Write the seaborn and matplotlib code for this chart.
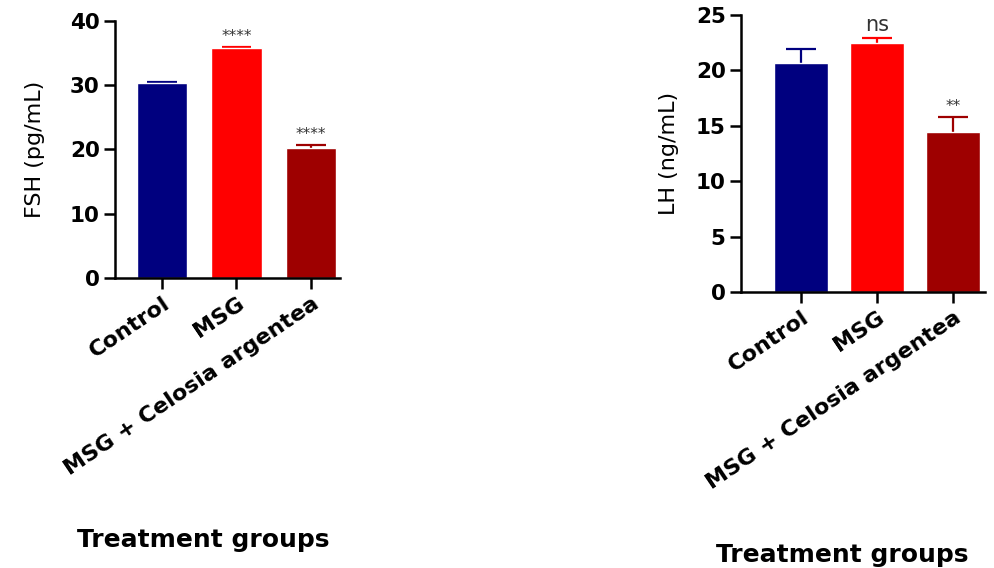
import matplotlib
matplotlib.use("Agg")
import matplotlib.pyplot as plt
import seaborn as sns
import pandas as pd

# Treatment groups and hormone measurements (mean, upper SEM)
groups = ["Control", "MSG", "MSG + Celosia argentea"]
fsh_mean = [30.4, 35.8, 20.2]
fsh_err = [0.15, 0.15, 0.45]
fsh_marks = ["", "****", "****"]
lh_mean = [20.7, 22.5, 14.4]
lh_err = [1.2, 0.4, 1.4]
lh_marks = ["", "ns", "**"]
bar_colors = ["#00007F", "#FF0000", "#9E0000"]

sns.set_style("white")
plt.rcParams["font.family"] = ["DejaVu Sans"]
for key in ("text.color", "axes.labelcolor", "xtick.color", "ytick.color"):
    plt.rcParams[key] = "black"

fig = plt.figure(figsize=(9.95, 5.68), dpi=100)
ax1 = fig.add_axes([0.1156, 0.5106, 0.2261, 0.4524])
ax2 = fig.add_axes([0.7447, 0.4859, 0.2452, 0.4877])


def draw_panel(ax, means, errs, marks, ylabel, ymax, ystep, xlim, width,
               mark_sizes, labelpad):
    df = pd.DataFrame({"group": groups, "value": means})
    sns.barplot(data=df, x="group", y="value", hue="group", palette=bar_colors,
                order=groups, hue_order=groups, legend=False, width=width,
                saturation=1, errorbar=None, ax=ax, zorder=2)
    # one-sided error bars: stem upward from the bar top, with a cap
    cap = 0.2
    for i, (m, e, c) in enumerate(zip(means, errs, bar_colors)):
        ax.vlines(i, m, m + e, color=c, linewidth=1.6, zorder=1)
        ax.hlines(m + e, i - cap, i + cap, color=c, linewidth=1.6, zorder=1)
    for i, (m, e, t) in enumerate(zip(means, errs, marks)):
        if t:
            ax.text(i, m + e + 0.012 * ymax, t, ha="center", va="bottom",
                    fontsize=mark_sizes[i], color="#333333")
    ax.set_ylim(0, ymax)
    ax.set_xlim(*xlim)
    ticks = list(range(0, ymax + 1, ystep))
    ax.set_yticks(ticks)
    ax.set_yticklabels([str(v) for v in ticks], fontsize=15.5,
                       fontweight="bold")
    ax.set_xticks(range(len(groups)))
    ax.set_xticklabels(groups, rotation=34, ha="right", va="top",
                       rotation_mode="anchor", fontsize=16,
                       fontweight="bold")
    ax.set_xlabel("")
    ax.set_ylabel(ylabel, fontsize=16, labelpad=labelpad)
    for side in ("top", "right"):
        ax.spines[side].set_visible(False)
    for side in ("left", "bottom"):
        ax.spines[side].set_linewidth(1.8)
        ax.spines[side].set_color("black")
    ax.tick_params(axis="both", which="major", length=8, width=1.8,
                   color="black", left=True, bottom=True, pad=3)


draw_panel(ax1, fsh_mean, fsh_err, fsh_marks, "FSH (pg/mL)", 40, 10,
           (-0.63, 2.39), 0.68, [0, 11, 11], 18)
draw_panel(ax2, lh_mean, lh_err, lh_marks, "LH (ng/mL)", 25, 5,
           (-0.79, 2.42), 0.71, [0, 15, 11], 12)

fig.text(203 / 995, 1 - 540 / 568, "Treatment groups", ha="center",
         va="center", fontsize=18, fontweight="bold")
fig.text(842 / 995, 1 - 555 / 568, "Treatment groups", ha="center",
         va="center", fontsize=18, fontweight="bold")

fig.savefig("out.png", dpi=100, facecolor="white")
